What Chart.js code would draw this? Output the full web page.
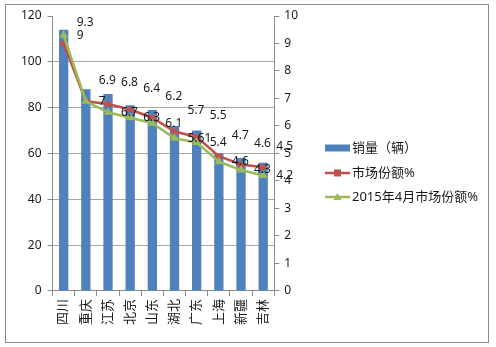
<!DOCTYPE html>
<html>
<head>
<meta charset="utf-8">
<script src="https://cdn.jsdelivr.net/npm/chart.js@4"></script>
<style>
html,body{margin:0;padding:0;background:#fff;}
#wrap{position:relative;width:496px;height:347px;}
canvas{display:block;}
</style>
</head>
<body>
<div id="wrap"><canvas id="c" width="496" height="347"></canvas></div>
<script>
const categories = ['四川','重庆','江苏','北京','山东','湖北','广东','上海','新疆','吉林'];
const sales = [114, 88, 86, 81, 79, 72, 70, 60, 58, 56];
const share = [9.0, 6.9, 6.8, 6.6, 6.3, 5.8, 5.6, 4.9, 4.6, 4.5];
const shareApr = [9.3, 6.9, 6.5, 6.3, 6.1, 5.55, 5.4, 4.7, 4.4, 4.2];
const shareLabels = ['9.3','6.9','6.8','6.4','6.2','5.7','5.5','4.7','4.6','4.5'];
const shareAprLabels = ['9','7','6.7','6.3','6.1','5.61','5.4','4.6','4.3','4.2'];
const seriesNames = ['销量（辆）','市场份额%','2015年4月市场份额%'];

const FONT = '"Noto Sans", "Noto Sans CJK SC", sans-serif';
const AXIS = '#8a8a8a';

const framePlugin = {
  id: 'frame',
  beforeDraw(chart) {
    const ctx = chart.ctx;
    ctx.save();
    ctx.fillStyle = '#fff';
    ctx.fillRect(0, 0, chart.width, chart.height);
    ctx.strokeStyle = '#8c8c8c';
    ctx.lineWidth = 1;
    ctx.strokeRect(5.5, 4.5, 483, 338);
    ctx.restore();
  }
};

const labelPlugin = {
  id: 'pointLabels',
  afterDatasetsDraw(chart) {
    const ctx = chart.ctx;
    ctx.save();
    ctx.font = '12px ' + FONT;
    ctx.fillStyle = '#1a1a1a';
    ctx.textAlign = 'left';
    ctx.textBaseline = 'middle';
    const sets = [[1, shareLabels, -21], [2, shareAprLabels, 0]];
    sets.forEach(([di, texts, dy]) => {
      const meta = chart.getDatasetMeta(di);
      meta.data.forEach((pt, i) => {
        ctx.fillText(texts[i], pt.x + 13, pt.y + dy);
      });
    });
    ctx.restore();
  }
};

const legendPlugin = {
  id: 'sideLegend',
  afterDraw(chart) {
    const ctx = chart.ctx;
    const ds = chart.data.datasets;
    const x0 = 325, x1 = 350, tx = 352;
    const ys = [148, 173, 197];
    ctx.save();
    ctx.font = '13px ' + FONT;
    ctx.textBaseline = 'middle';
    ctx.textAlign = 'left';
    ctx.fillStyle = ds[0].backgroundColor;
    ctx.fillRect(x0, ys[0] - 3.5, x1 - x0, 7);
    [1, 2].forEach(k => {
      const y = ys[k];
      ctx.strokeStyle = ds[k].borderColor;
      ctx.lineWidth = 2.5;
      ctx.beginPath(); ctx.moveTo(x0, y); ctx.lineTo(x1, y); ctx.stroke();
      const cx = (x0 + x1) / 2;
      ctx.fillStyle = ds[k].backgroundColor;
      if (k === 1) {
        ctx.fillRect(cx - 3.5, y - 3.5, 7, 7);
      } else {
        ctx.beginPath();
        ctx.moveTo(cx, y - 4); ctx.lineTo(cx + 4, y + 3); ctx.lineTo(cx - 4, y + 3);
        ctx.closePath(); ctx.fill();
      }
    });
    ctx.fillStyle = '#1a1a1a';
    seriesNames.forEach((n, i) => ctx.fillText(n, tx, ys[i]));
    ctx.restore();
  }
};

new Chart(document.getElementById('c'), {
  data: {
    labels: categories,
    datasets: [
      {
        type: 'bar', label: seriesNames[0], data: sales, yAxisID: 'y',
        backgroundColor: '#4F81BD', borderWidth: 0,
        barPercentage: 0.42, categoryPercentage: 1.0, order: 3
      },
      {
        type: 'line', label: seriesNames[1], data: share, yAxisID: 'y1',
        borderColor: '#C0504D', backgroundColor: '#C0504D', borderWidth: 2.5,
        pointStyle: 'rect', pointRadius: 4, pointBorderWidth: 0, tension: 0, order: 2
      },
      {
        type: 'line', label: seriesNames[2], data: shareApr, yAxisID: 'y1',
        borderColor: '#9BBB59', backgroundColor: '#9BBB59', borderWidth: 2.5,
        pointStyle: 'triangle', pointRadius: 5, pointBorderWidth: 0, tension: 0, order: 1
      }
    ]
  },
  options: {
    responsive: false,
    animation: false,
    devicePixelRatio: 1,
    layout: { padding: { left: 15, right: 193, top: 16, bottom: 19 } },
    plugins: { legend: { display: false }, tooltip: { enabled: false } },
    scales: {
      x: {
        offset: true,
        grid: { display: true, drawOnChartArea: false, offset: true, tickLength: 5, color: AXIS },
        border: { color: AXIS },
        ticks: { maxRotation: 90, minRotation: 90, padding: 3, color: '#1a1a1a', font: { size: 13, family: FONT } }
      },
      y: {
        position: 'left', min: 0, max: 120,
        ticks: { stepSize: 20, padding: 6, color: '#1a1a1a', font: { size: 12, family: FONT } },
        grid: {
          color: (c) => (c.tick && (c.tick.value === 120 || c.tick.value === 0)) ? 'rgba(0,0,0,0)' : '#a6a6a6',
          tickColor: AXIS, tickLength: 5
        },
        border: { color: AXIS }
      },
      y1: {
        position: 'right', min: 0, max: 10,
        ticks: { stepSize: 1, padding: 5, color: '#1a1a1a', font: { size: 12, family: FONT } },
        grid: { drawOnChartArea: false, tickLength: 5, color: AXIS },
        border: { color: AXIS }
      }
    }
  },
  plugins: [framePlugin, labelPlugin, legendPlugin]
});
</script>
</body>
</html>
